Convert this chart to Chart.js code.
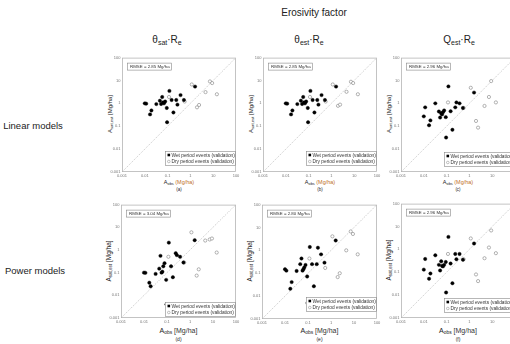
<!DOCTYPE html>
<html><head><meta charset="utf-8">
<script src="https://cdn.jsdelivr.net/npm/chart.js@4"></script>
<style>
html,body{margin:0;padding:0;width:510px;height:344px;overflow:hidden;background:#fff;font-family:"Liberation Sans",Arial,sans-serif;color:#222;}
.t{position:absolute;white-space:nowrap;transform:translate(-50%,-50%);line-height:1;}
.r{transform:translate(-50%,-50%) rotate(-90deg);}
.s{font-size:70%;position:relative;top:0.3em;}
canvas{position:absolute;}
</style></head><body>

<div class="t" style="left:314px;top:13px;font-size:10px;">Erosivity factor</div>
<div class="t" style="left:167px;top:40px;font-size:10px;">θ<span class="s">sat</span>·R<span class="s">e</span></div>
<div class="t" style="left:309px;top:40px;font-size:10px;">θ<span class="s">est</span>·R<span class="s">e</span></div>
<div class="t" style="left:459px;top:40px;font-size:10px;">Q<span class="s">est</span>·R<span class="s">e</span></div>
<div class="t" style="left:33px;top:126px;font-size:9.5px;">Linear models</div>
<div class="t" style="left:35px;top:271px;font-size:9.5px;">Power models</div>

<div id="labels"></div>

<script>
// ---- data ----
const tickValues = [0.001, 0.01, 0.1, 1, 10, 100];
const tickLabels = ["0.001", "0.01", "0.1", "1", "10", "100"];
const oneToOne = [0.001, 100];

// observed soil loss (same for all panels)
const wetObs = [0.010, 0.0115, 0.017, 0.0195, 0.032, 0.046, 0.052, 0.058, 0.063, 0.069, 0.078, 0.092, 0.095, 0.12, 0.15, 0.18, 0.24, 0.27, 0.37, 0.52, 1.6];
const dryObs = [0.115, 0.56, 1.15, 1.95, 2.4, 4.6, 7.2, 9.0, 14.5];

// estimated soil loss per panel
const wetEstA = [1.0, 0.97, 0.33, 0.49, 0.93, 1.3, 0.94, 1.9, 1.1, 1.0, 1.2, 0.63, 0.15, 3.5, 1.4, 0.40, 1.4, 0.88, 2.3, 1.4, 5.4];
const dryEstA = [1.9, 1.2, 6.7, 0.67, 0.85, 3.1, 9.1, 7.7, 2.5];
const wetEstB = [1.0, 0.97, 0.33, 0.49, 0.93, 1.3, 0.94, 1.9, 1.1, 1.0, 1.2, 0.63, 0.15, 3.5, 1.4, 0.40, 1.4, 0.88, 2.3, 1.4, 5.4];
const dryEstB = [1.9, 1.2, 6.7, 0.78, 0.88, 3.2, 8.8, 7.7, 2.5];
const wetEstC = [0.27, 0.67, 0.11, 0.18, 1.0, 0.44, 0.24, 0.37, 0.33, 0.41, 0.49, 0.25, 0.032, 5.5, 0.45, 0.07, 0.67, 1.1, 1.0, 0.63, 2.96];
const dryEstC = [1.1, 0.63, 4.8, 0.17, 0.087, 0.77, 1.9, 9.4, 1.1];
const wetEstD = [0.10, 0.098, 0.036, 0.025, 0.088, 0.15, 0.55, 0.10, 0.11, 0.19, 0.26, 0.048, 0.004, 2.1, 0.19, 0.063, 0.72, 0.59, 0.50, 0.28, 2.7];
const dryEstD = [0.5, 0.28, 6.0, 0.074, 0.14, 2.6, 2.9, 3.2, 0.77];
const wetEstE = [0.15, 0.13, 0.021, 0.041, 0.126, 0.25, 0.44, 0.13, 0.15, 0.18, 0.23, 0.072, 0.005, 1.4, 0.25, 0.027, 0.25, 1.3, 0.67, 0.29, 2.7];
const dryEstE = [0.44, 0.17, 4.1, 0.068, 0.10, 1.0, 6.7, 5.2, 0.67];
const wetEstF = [0.13, 0.38, 0.052, 0.088, 0.55, 0.21, 0.12, 0.30, 0.19, 0.18, 0.21, 0.28, 0.013, 3.5, 0.24, 0.033, 0.63, 0.37, 0.63, 0.35, 1.8];
const dryEstF = [0.63, 0.37, 3.0, 0.08, 0.041, 0.41, 1.2, 6.7, 0.68];

const rmseTexts = ["RMSE = 2.85 Mg/ha", "RMSE = 2.85 Mg/ha", "RMSE = 2.96 Mg/ha", "RMSE = 3.04 Mg/ha", "RMSE = 2.80 Mg/ha", "RMSE = 2.96 Mg/ha"];
const panelLetters = ["(a)", "(b)", "(c)", "(d)", "(e)", "(f)"];
const wetLabel = "Wet period events (validation)";
const dryLabel = "Dry period events (validation)";

// ---- layout ----
const panels = [
  {wet: wetEstA, dry: dryEstA, l:122, t:56, w:114, h:116, legB:7, row:1},
  {wet: wetEstB, dry: dryEstB, l:263, t:56, w:114, h:116, legB:7, row:1},
  {wet: wetEstC, dry: dryEstC, l:401, t:56, w:114, h:116, legB:6, row:1},
  {wet: wetEstD, dry: dryEstD, l:121, t:203, w:115, h:115, legB:2, row:2},
  {wet: wetEstE, dry: dryEstE, l:262, t:203, w:115, h:116, legB:8, row:2},
  {wet: wetEstF, dry: dryEstF, l:401, t:202, w:114, h:116, legB:6, row:2}
];
const YW = 16, PT = 3, PR = 5, XH = 8;

const decor = {
  id: 'decor',
  beforeDatasetsDraw(chart) {
    const {ctx, chartArea: a} = chart;
    ctx.save();
    ctx.strokeStyle = '#b5b5b5'; ctx.lineWidth = 0.8;
    ctx.strokeRect(a.left + 0.5, a.top + 0.5, a.width - 1, a.height - 1);
    ctx.restore();
  },
  afterDatasetsDraw(chart) {
    const o = chart.options.plugins.decor;
    const {ctx, chartArea: a} = chart;
    ctx.save();
    ctx.font = '4.4px "Liberation Sans", Arial, sans-serif';
    ctx.textBaseline = 'middle';
    // RMSE box
    const rx = a.left + 5, ry = a.top + 5, rw = 44, rh = 7;
    ctx.fillStyle = '#fff'; ctx.fillRect(rx, ry, rw, rh);
    ctx.strokeStyle = '#888'; ctx.lineWidth = 0.6;
    ctx.strokeRect(rx + 0.5, ry + 0.5, rw, rh);
    ctx.fillStyle = '#333'; ctx.fillText(o.rmse, rx + 3, ry + rh / 2 + 0.8);
    // legend box
    ctx.font = '4.8px "Liberation Sans", Arial, sans-serif';
    const lw = 70, lh = 14;
    const lx = a.right - 1 - lw, ly = a.bottom - o.legB - lh;
    ctx.fillStyle = '#fff'; ctx.fillRect(lx, ly, lw, lh);
    ctx.strokeStyle = '#888'; ctx.strokeRect(lx + 0.5, ly + 0.5, lw, lh);
    const ds = chart.data.datasets;
    const y1 = ly + 4, y2 = ly + 10.5;
    ctx.fillStyle = ds[0].backgroundColor;
    ctx.fillRect(lx + 2.5, y1 - 1.3, 2.6, 2.6);
    ctx.beginPath(); ctx.arc(lx + 3.8, y2, 1.3, 0, Math.PI * 2);
    ctx.fillStyle = '#fff'; ctx.fill();
    ctx.strokeStyle = ds[1].borderColor; ctx.lineWidth = 0.5; ctx.stroke();
    ctx.fillStyle = '#333';
    ctx.fillText(ds[0].label, lx + 6.5, y1 + 0.4);
    ctx.fillText(ds[1].label, lx + 6.5, y2 + 0.4);
    ctx.restore();
  }
};

const scaleBase = (axis) => ({
  type: 'logarithmic', min: 0.001, max: 100,
  afterBuildTicks: s => { s.ticks = tickValues.map(v => ({value: v})); },
  ticks: {
    callback: (v, i) => tickLabels[i],
    font: {size: 4, family: '"Liberation Sans", Arial, sans-serif'},
    color: '#777', autoSkip: false, maxRotation: 0, padding: 1.5
  },
  grid: {display: false, drawTicks: false},
  border: {display: false},
  afterFit: s => {
    if (axis === 'x') s.height = XH; else s.width = YW;
    s.paddingLeft = 0; s.paddingRight = 0; s.paddingTop = 0; s.paddingBottom = 0;
  }
});

const labelsDiv = document.getElementById('labels');
panels.forEach((p, k) => {
  const cv = document.createElement('canvas');
  const W = p.w + YW + PR, H = p.h + PT + XH;
  cv.width = W; cv.height = H;
  cv.style.left = (p.l - YW) + 'px'; cv.style.top = (p.t - PT) + 'px';
  cv.style.width = W + 'px'; cv.style.height = H + 'px';
  document.body.appendChild(cv);
  new Chart(cv, {
    type: 'scatter',
    data: {datasets: [
      {label: wetLabel, data: wetObs.map((x, i) => ({x, y: p.wet[i]})),
       pointStyle: 'circle', pointRadius: 1.7, backgroundColor: '#000', borderColor: '#000', borderWidth: 0.4},
      {label: dryLabel, data: dryObs.map((x, i) => ({x, y: p.dry[i]})),
       pointStyle: 'circle', pointRadius: 1.6, backgroundColor: '#fff', borderColor: '#808080', borderWidth: 0.6},
      {label: '1:1', data: oneToOne.map(v => ({x: v, y: v})), showLine: true, pointRadius: 0,
       borderColor: '#a8a8a8', borderWidth: 0.6, borderDash: [1.2, 1.2]}
    ]},
    options: {
      responsive: false, animation: false, devicePixelRatio: 1,
      layout: {padding: {top: PT, right: PR, left: 0, bottom: 0}},
      plugins: {legend: {display: false}, tooltip: {enabled: false},
                decor: {rmse: rmseTexts[k], legB: p.legB}},
      scales: {x: scaleBase('x'), y: scaleBase('y')}
    },
    plugins: [decor]
  });
  const cx = p.l + p.w / 2;
  const cy = p.t + p.h / 2;
  const big = p.row === 2;
  const yt = document.createElement('div');
  yt.className = 't r';
  yt.style.left = (p.l - 12) + 'px'; yt.style.top = cy + 'px';
  yt.style.fontSize = big ? '6.5px' : '6px';
  yt.innerHTML = 'A<span class="s">sat,est</span> [Mg/ha]';
  labelsDiv.appendChild(yt);
  const xt = document.createElement('div');
  xt.className = 't';
  xt.style.left = cx + 'px';
  xt.style.top = (big ? 331 : 183) + 'px';
  xt.style.fontSize = big ? '7px' : '5.5px';
  xt.innerHTML = big ? 'A<span class="s">obs</span> <span style="color:#333">[Mg/ha]</span>' : 'A<span class="s">obs</span> <span style="color:#c0702a">(Mg/ha)</span>';
  labelsDiv.appendChild(xt);
  const lt = document.createElement('div');
  lt.className = 't';
  lt.style.left = cx + 'px';
  lt.style.top = (big ? 339 : 190) + 'px';
  lt.style.fontSize = big ? '5px' : '4.5px';
  lt.textContent = panelLetters[k];
  labelsDiv.appendChild(lt);
});
</script>
</body></html>
